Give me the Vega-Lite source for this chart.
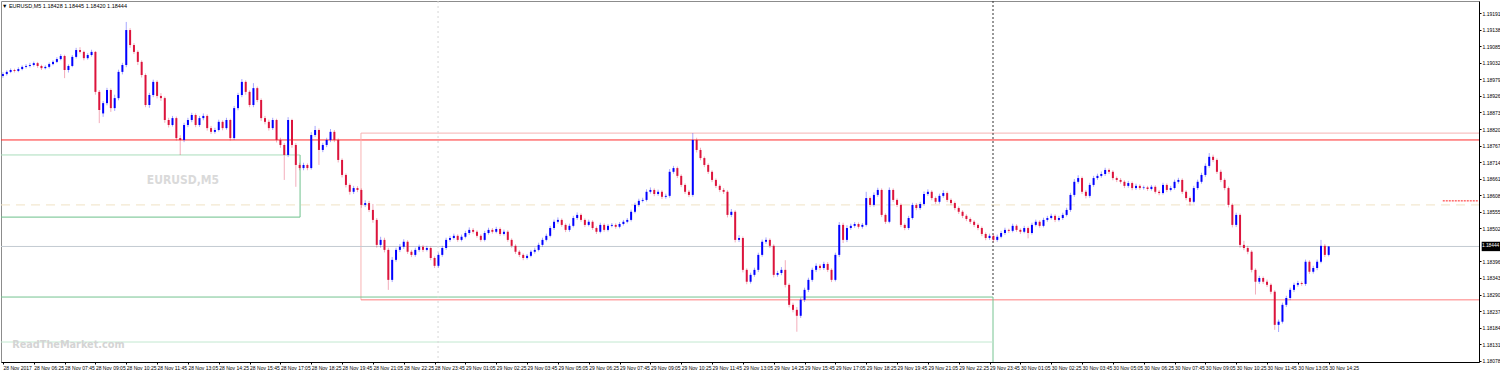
{
"$schema":"https://vega.github.io/schema/vega-lite/v6.json",
"width":1478,"height":361,"autosize":{"type":"none"},
"padding":{"left":1,"top":1,"right":21,"bottom":10},
"background":"white",
"config":{"view":{"stroke":"#8c8c8c"},"axis":{"grid":false,"labelFont":"Liberation Sans","labelFontSize":5,"labelColor":"#000000","labelPadding":1,"tickSize":2,"tickColor":"#000000","domainColor":"#000000","labelOverlap":false,"labelBound":false,"labelFlush":false,"title":null}},
"datasets":{
"lines":[
{"a":-0.5,"b":383,"p":1.18785,"q":1.18785,"s":"res"},
{"a":92.9,"b":383,"p":1.18807,"q":1.18807,"s":"box"},
{"a":92.9,"b":92.9,"p":1.18807,"q":1.18273,"s":"box"},
{"a":92.9,"b":383,"p":1.18273,"q":1.18273,"s":"sup"},
{"a":-0.5,"b":256.9,"p":1.18282,"q":1.18282,"s":"g1"},
{"a":256.9,"b":256.9,"p":1.18282,"q":1.18074,"s":"g1"},
{"a":-0.5,"b":256.9,"p":1.18138,"q":1.18138,"s":"g2"},
{"a":-0.5,"b":77.1,"p":1.18737,"q":1.18737,"s":"g3"},
{"a":77.1,"b":77.1,"p":1.18737,"q":1.18538,"s":"g4"},
{"a":-0.5,"b":77.1,"p":1.18538,"q":1.18538,"s":"g4"},
{"a":-0.5,"b":383,"p":1.18577,"q":1.18577,"s":"dash"},
{"a":-0.5,"b":383,"p":1.18444,"q":1.18444,"s":"bid"},
{"a":112.9,"b":112.9,"p":1.1923,"q":1.18074,"s":"sep"},
{"a":256.9,"b":256.9,"p":1.1923,"q":1.18282,"s":"vline"},
{"a":373.6,"b":382.8,"p":1.1859,"q":1.1859,"s":"arrow"}
],
"bars":[
{"i":0,"o":1.1899,"h":1.19002,"l":1.18984,"c":1.18996},
{"i":1,"o":1.18996,"h":1.19008,"l":1.18991,"c":1.19003},
{"i":2,"o":1.19003,"h":1.19014,"l":1.18999,"c":1.19009},
{"i":3,"o":1.19009,"h":1.19013,"l":1.19001,"c":1.19006},
{"i":4,"o":1.19006,"h":1.19018,"l":1.19002,"c":1.19012},
{"i":5,"o":1.19012,"h":1.19024,"l":1.19008,"c":1.19019},
{"i":6,"o":1.19019,"h":1.19028,"l":1.19014,"c":1.19022},
{"i":7,"o":1.19022,"h":1.19032,"l":1.19017,"c":1.19025},
{"i":8,"o":1.19025,"h":1.19036,"l":1.1902,"c":1.19031},
{"i":9,"o":1.19031,"h":1.19035,"l":1.19016,"c":1.19022},
{"i":10,"o":1.19022,"h":1.19026,"l":1.19009,"c":1.19015},
{"i":11,"o":1.19015,"h":1.19024,"l":1.19011,"c":1.19019},
{"i":12,"o":1.19019,"h":1.19033,"l":1.19014,"c":1.19028},
{"i":13,"o":1.19028,"h":1.1904,"l":1.19024,"c":1.19035},
{"i":14,"o":1.19035,"h":1.1905,"l":1.19031,"c":1.19044},
{"i":15,"o":1.19044,"h":1.1906,"l":1.1904,"c":1.19054},
{"i":16,"o":1.19054,"h":1.19058,"l":1.18983,"c":1.19009},
{"i":17,"o":1.19009,"h":1.19027,"l":1.19001,"c":1.19022},
{"i":18,"o":1.19022,"h":1.19057,"l":1.19018,"c":1.19051},
{"i":19,"o":1.19051,"h":1.1908,"l":1.19046,"c":1.19073},
{"i":20,"o":1.19073,"h":1.19082,"l":1.19062,"c":1.19067},
{"i":21,"o":1.19067,"h":1.19071,"l":1.1904,"c":1.19047},
{"i":22,"o":1.19047,"h":1.19063,"l":1.19042,"c":1.19057},
{"i":23,"o":1.19057,"h":1.19074,"l":1.19052,"c":1.19067},
{"i":24,"o":1.19067,"h":1.1907,"l":1.1893,"c":1.18939},
{"i":25,"o":1.18939,"h":1.18945,"l":1.18839,"c":1.18881},
{"i":26,"o":1.1887,"h":1.1891,"l":1.18859,"c":1.18903},
{"i":27,"o":1.18903,"h":1.18952,"l":1.18896,"c":1.18945},
{"i":28,"o":1.18945,"h":1.1895,"l":1.18875,"c":1.18887},
{"i":29,"o":1.18887,"h":1.1893,"l":1.18878,"c":1.18919},
{"i":30,"o":1.18919,"h":1.1901,"l":1.18912,"c":1.19003},
{"i":31,"o":1.19003,"h":1.19032,"l":1.18995,"c":1.19025},
{"i":32,"o":1.19025,"h":1.19163,"l":1.19018,"c":1.19137},
{"i":33,"o":1.19137,"h":1.19143,"l":1.1908,"c":1.19089},
{"i":34,"o":1.19089,"h":1.19095,"l":1.1906,"c":1.19067},
{"i":35,"o":1.19067,"h":1.19072,"l":1.19025,"c":1.19035},
{"i":36,"o":1.19035,"h":1.1904,"l":1.18985,"c":1.18993},
{"i":37,"o":1.18993,"h":1.18998,"l":1.1889,"c":1.18897},
{"i":38,"o":1.18897,"h":1.18936,"l":1.18888,"c":1.18929},
{"i":39,"o":1.18929,"h":1.18978,"l":1.18922,"c":1.18971},
{"i":40,"o":1.18971,"h":1.18976,"l":1.18918,"c":1.18926},
{"i":41,"o":1.18926,"h":1.18935,"l":1.1891,"c":1.18919},
{"i":42,"o":1.18919,"h":1.18924,"l":1.1884,"c":1.18849},
{"i":43,"o":1.18849,"h":1.18856,"l":1.18825,"c":1.18833},
{"i":44,"o":1.18833,"h":1.18862,"l":1.18828,"c":1.18855},
{"i":45,"o":1.18855,"h":1.1886,"l":1.18783,"c":1.18791},
{"i":46,"o":1.18791,"h":1.188,"l":1.18737,"c":1.18785},
{"i":47,"o":1.18785,"h":1.1884,"l":1.18778,"c":1.18833},
{"i":48,"o":1.18833,"h":1.18856,"l":1.18826,"c":1.18849},
{"i":49,"o":1.18849,"h":1.18872,"l":1.18842,"c":1.18865},
{"i":50,"o":1.18865,"h":1.1887,"l":1.18826,"c":1.18833},
{"i":51,"o":1.18833,"h":1.18862,"l":1.18827,"c":1.18855},
{"i":52,"o":1.18855,"h":1.1887,"l":1.18848,"c":1.18862},
{"i":53,"o":1.18862,"h":1.18867,"l":1.18815,"c":1.18823},
{"i":54,"o":1.18823,"h":1.1883,"l":1.18804,"c":1.18811},
{"i":55,"o":1.18811,"h":1.18824,"l":1.18805,"c":1.18817},
{"i":56,"o":1.18817,"h":1.1885,"l":1.18812,"c":1.18843},
{"i":57,"o":1.18843,"h":1.18848,"l":1.18816,"c":1.18823},
{"i":58,"o":1.18823,"h":1.18856,"l":1.18818,"c":1.18849},
{"i":59,"o":1.18849,"h":1.18853,"l":1.18783,"c":1.18791},
{"i":60,"o":1.18791,"h":1.18894,"l":1.18785,"c":1.18887},
{"i":61,"o":1.18887,"h":1.18936,"l":1.1888,"c":1.18929},
{"i":62,"o":1.18929,"h":1.1898,"l":1.18922,"c":1.18971},
{"i":63,"o":1.18971,"h":1.18976,"l":1.1893,"c":1.18939},
{"i":64,"o":1.18939,"h":1.18944,"l":1.1889,"c":1.18897},
{"i":65,"o":1.18897,"h":1.18967,"l":1.1889,"c":1.18951},
{"i":66,"o":1.18951,"h":1.18956,"l":1.18906,"c":1.18913},
{"i":67,"o":1.18913,"h":1.18918,"l":1.18846,"c":1.18855},
{"i":68,"o":1.18855,"h":1.18862,"l":1.18835,"c":1.18843},
{"i":69,"o":1.18843,"h":1.1885,"l":1.18815,"c":1.18823},
{"i":70,"o":1.18823,"h":1.18856,"l":1.18817,"c":1.18849},
{"i":71,"o":1.18849,"h":1.18853,"l":1.18777,"c":1.18785},
{"i":72,"o":1.18785,"h":1.18792,"l":1.1876,"c":1.18769},
{"i":73,"o":1.18769,"h":1.18775,"l":1.18657,"c":1.18737},
{"i":74,"o":1.18737,"h":1.18858,"l":1.1873,"c":1.18849},
{"i":75,"o":1.18849,"h":1.18853,"l":1.1876,"c":1.18769},
{"i":76,"o":1.18769,"h":1.18775,"l":1.18635,"c":1.18705},
{"i":77,"o":1.18705,"h":1.18712,"l":1.18688,"c":1.18695},
{"i":78,"o":1.18695,"h":1.18712,"l":1.18688,"c":1.18705},
{"i":79,"o":1.18705,"h":1.1871,"l":1.18688,"c":1.18695},
{"i":80,"o":1.18695,"h":1.1881,"l":1.1869,"c":1.18801},
{"i":81,"o":1.18801,"h":1.1883,"l":1.18795,"c":1.18817},
{"i":82,"o":1.18817,"h":1.18822,"l":1.18705,"c":1.18753},
{"i":83,"o":1.18753,"h":1.18776,"l":1.18746,"c":1.18769},
{"i":84,"o":1.18769,"h":1.18792,"l":1.18762,"c":1.18785},
{"i":85,"o":1.18785,"h":1.1882,"l":1.18778,"c":1.18811},
{"i":86,"o":1.18811,"h":1.18817,"l":1.18778,"c":1.18785},
{"i":87,"o":1.18785,"h":1.1879,"l":1.18713,"c":1.18721},
{"i":88,"o":1.18721,"h":1.18726,"l":1.18665,"c":1.18673},
{"i":89,"o":1.18673,"h":1.18678,"l":1.18633,"c":1.18641},
{"i":90,"o":1.18641,"h":1.18646,"l":1.1861,"c":1.18619},
{"i":91,"o":1.18619,"h":1.18638,"l":1.18612,"c":1.18631},
{"i":92,"o":1.18631,"h":1.18637,"l":1.18618,"c":1.18625},
{"i":93,"o":1.18625,"h":1.1863,"l":1.18568,"c":1.18577},
{"i":94,"o":1.18577,"h":1.18592,"l":1.1857,"c":1.18583},
{"i":95,"o":1.18583,"h":1.1859,"l":1.18554,"c":1.18561},
{"i":96,"o":1.18561,"h":1.1858,"l":1.1852,"c":1.18529},
{"i":97,"o":1.18529,"h":1.18535,"l":1.1844,"c":1.18449},
{"i":98,"o":1.18449,"h":1.18475,"l":1.1844,"c":1.18465},
{"i":99,"o":1.18465,"h":1.18472,"l":1.18425,"c":1.18433},
{"i":100,"o":1.18433,"h":1.1844,"l":1.18305,"c":1.18337},
{"i":101,"o":1.18337,"h":1.1841,"l":1.1833,"c":1.18401},
{"i":102,"o":1.18401,"h":1.1844,"l":1.18395,"c":1.18433},
{"i":103,"o":1.18433,"h":1.18452,"l":1.18426,"c":1.18443},
{"i":104,"o":1.18443,"h":1.18467,"l":1.18436,"c":1.18459},
{"i":105,"o":1.18459,"h":1.18464,"l":1.1842,"c":1.18427},
{"i":106,"o":1.18427,"h":1.18433,"l":1.1841,"c":1.18417},
{"i":107,"o":1.18417,"h":1.1844,"l":1.18411,"c":1.18433},
{"i":108,"o":1.18433,"h":1.1845,"l":1.18427,"c":1.18443},
{"i":109,"o":1.18443,"h":1.18449,"l":1.18426,"c":1.18433},
{"i":110,"o":1.18433,"h":1.18446,"l":1.18428,"c":1.18439},
{"i":111,"o":1.18439,"h":1.18444,"l":1.184,"c":1.18407},
{"i":112,"o":1.18407,"h":1.18412,"l":1.18375,"c":1.18382},
{"i":113,"o":1.18382,"h":1.18424,"l":1.18376,"c":1.18417},
{"i":114,"o":1.18417,"h":1.18446,"l":1.18411,"c":1.18439},
{"i":115,"o":1.18439,"h":1.18472,"l":1.18433,"c":1.18465},
{"i":116,"o":1.18465,"h":1.18478,"l":1.18459,"c":1.18471},
{"i":117,"o":1.18471,"h":1.18485,"l":1.18466,"c":1.18478},
{"i":118,"o":1.18478,"h":1.18483,"l":1.18459,"c":1.18465},
{"i":119,"o":1.18465,"h":1.18482,"l":1.1846,"c":1.18475},
{"i":120,"o":1.18475,"h":1.18494,"l":1.1847,"c":1.18487},
{"i":121,"o":1.18487,"h":1.18505,"l":1.18481,"c":1.18497},
{"i":122,"o":1.18497,"h":1.18503,"l":1.18485,"c":1.18491},
{"i":123,"o":1.18491,"h":1.18496,"l":1.18472,"c":1.18478},
{"i":124,"o":1.18478,"h":1.18483,"l":1.18459,"c":1.18465},
{"i":125,"o":1.18465,"h":1.18494,"l":1.1846,"c":1.18487},
{"i":126,"o":1.18487,"h":1.18504,"l":1.18482,"c":1.18497},
{"i":127,"o":1.18497,"h":1.18503,"l":1.18485,"c":1.18491},
{"i":128,"o":1.18491,"h":1.18507,"l":1.18486,"c":1.185},
{"i":129,"o":1.185,"h":1.18505,"l":1.18478,"c":1.18484},
{"i":130,"o":1.18484,"h":1.18498,"l":1.18479,"c":1.18491},
{"i":131,"o":1.18491,"h":1.18496,"l":1.18459,"c":1.18465},
{"i":132,"o":1.18465,"h":1.1847,"l":1.1844,"c":1.18446},
{"i":133,"o":1.18446,"h":1.18451,"l":1.1842,"c":1.18427},
{"i":134,"o":1.18427,"h":1.18432,"l":1.1841,"c":1.18417},
{"i":135,"o":1.18417,"h":1.18422,"l":1.184,"c":1.18407},
{"i":136,"o":1.18407,"h":1.1842,"l":1.18402,"c":1.18414},
{"i":137,"o":1.18414,"h":1.18433,"l":1.18409,"c":1.18427},
{"i":138,"o":1.18427,"h":1.1844,"l":1.18421,"c":1.18433},
{"i":139,"o":1.18433,"h":1.18456,"l":1.18428,"c":1.18449},
{"i":140,"o":1.18449,"h":1.18472,"l":1.18443,"c":1.18465},
{"i":141,"o":1.18465,"h":1.18485,"l":1.1846,"c":1.18478},
{"i":142,"o":1.18478,"h":1.1851,"l":1.18473,"c":1.18503},
{"i":143,"o":1.18503,"h":1.1853,"l":1.18497,"c":1.18523},
{"i":144,"o":1.18523,"h":1.18537,"l":1.18517,"c":1.18529},
{"i":145,"o":1.18529,"h":1.18534,"l":1.18507,"c":1.18513},
{"i":146,"o":1.18513,"h":1.18518,"l":1.1849,"c":1.18497},
{"i":147,"o":1.18497,"h":1.18517,"l":1.18491,"c":1.1851},
{"i":148,"o":1.1851,"h":1.18542,"l":1.18505,"c":1.18535},
{"i":149,"o":1.18535,"h":1.18553,"l":1.18529,"c":1.18545},
{"i":150,"o":1.18545,"h":1.1855,"l":1.18523,"c":1.18529},
{"i":151,"o":1.18529,"h":1.18534,"l":1.18506,"c":1.18513},
{"i":152,"o":1.18513,"h":1.1853,"l":1.18508,"c":1.18523},
{"i":153,"o":1.18523,"h":1.18528,"l":1.18497,"c":1.18503},
{"i":154,"o":1.18503,"h":1.18508,"l":1.18484,"c":1.18491},
{"i":155,"o":1.18491,"h":1.1852,"l":1.18486,"c":1.18513},
{"i":156,"o":1.18513,"h":1.18518,"l":1.18491,"c":1.18497},
{"i":157,"o":1.18497,"h":1.18516,"l":1.18492,"c":1.1851},
{"i":158,"o":1.1851,"h":1.18519,"l":1.18505,"c":1.18513},
{"i":159,"o":1.18513,"h":1.18518,"l":1.18501,"c":1.18507},
{"i":160,"o":1.18507,"h":1.18522,"l":1.18502,"c":1.18516},
{"i":161,"o":1.18516,"h":1.18529,"l":1.18511,"c":1.18523},
{"i":162,"o":1.18523,"h":1.18535,"l":1.18518,"c":1.18529},
{"i":163,"o":1.18529,"h":1.18562,"l":1.18524,"c":1.18555},
{"i":164,"o":1.18555,"h":1.18584,"l":1.1855,"c":1.18577},
{"i":165,"o":1.18577,"h":1.18597,"l":1.18571,"c":1.1859},
{"i":166,"o":1.1859,"h":1.186,"l":1.18585,"c":1.18593},
{"i":167,"o":1.18593,"h":1.18627,"l":1.18588,"c":1.18619},
{"i":168,"o":1.18619,"h":1.18633,"l":1.18613,"c":1.18625},
{"i":169,"o":1.18625,"h":1.1863,"l":1.18605,"c":1.18612},
{"i":170,"o":1.18612,"h":1.18626,"l":1.18606,"c":1.18619},
{"i":171,"o":1.18619,"h":1.18624,"l":1.18596,"c":1.18603},
{"i":172,"o":1.18603,"h":1.18613,"l":1.18597,"c":1.18606},
{"i":173,"o":1.18606,"h":1.18692,"l":1.186,"c":1.18683},
{"i":174,"o":1.18683,"h":1.18702,"l":1.18677,"c":1.18695},
{"i":175,"o":1.18695,"h":1.187,"l":1.18663,"c":1.1867},
{"i":176,"o":1.1867,"h":1.18675,"l":1.18634,"c":1.18641},
{"i":177,"o":1.18641,"h":1.18646,"l":1.18612,"c":1.18619},
{"i":178,"o":1.18619,"h":1.18625,"l":1.18602,"c":1.18609},
{"i":179,"o":1.18609,"h":1.18807,"l":1.18603,"c":1.18785},
{"i":180,"o":1.18785,"h":1.18792,"l":1.18745,"c":1.18753},
{"i":181,"o":1.18753,"h":1.1876,"l":1.1872,"c":1.18727},
{"i":182,"o":1.18727,"h":1.18732,"l":1.18698,"c":1.18705},
{"i":183,"o":1.18705,"h":1.1871,"l":1.18676,"c":1.18683},
{"i":184,"o":1.18683,"h":1.18688,"l":1.1865,"c":1.18657},
{"i":185,"o":1.18657,"h":1.18662,"l":1.18631,"c":1.18638},
{"i":186,"o":1.18638,"h":1.18643,"l":1.18618,"c":1.18625},
{"i":187,"o":1.18625,"h":1.18631,"l":1.18612,"c":1.18619},
{"i":188,"o":1.18619,"h":1.18624,"l":1.18537,"c":1.18545},
{"i":189,"o":1.18545,"h":1.18564,"l":1.18538,"c":1.18555},
{"i":190,"o":1.18555,"h":1.1856,"l":1.18457,"c":1.18465},
{"i":191,"o":1.18465,"h":1.1848,"l":1.18458,"c":1.18471},
{"i":192,"o":1.18471,"h":1.18476,"l":1.18361,"c":1.18369},
{"i":193,"o":1.18369,"h":1.18374,"l":1.18323,"c":1.18331},
{"i":194,"o":1.18331,"h":1.1836,"l":1.18325,"c":1.18353},
{"i":195,"o":1.18353,"h":1.18376,"l":1.18347,"c":1.18369},
{"i":196,"o":1.18369,"h":1.18424,"l":1.18362,"c":1.18417},
{"i":197,"o":1.18417,"h":1.18466,"l":1.18411,"c":1.18459},
{"i":198,"o":1.18459,"h":1.18473,"l":1.18452,"c":1.18465},
{"i":199,"o":1.18465,"h":1.1847,"l":1.18439,"c":1.18446},
{"i":200,"o":1.18446,"h":1.18451,"l":1.18345,"c":1.18353},
{"i":201,"o":1.18353,"h":1.18366,"l":1.18347,"c":1.18359},
{"i":202,"o":1.18359,"h":1.18378,"l":1.18352,"c":1.18369},
{"i":203,"o":1.18369,"h":1.184,"l":1.18313,"c":1.18321},
{"i":204,"o":1.18321,"h":1.18326,"l":1.18249,"c":1.18257},
{"i":205,"o":1.18257,"h":1.18264,"l":1.18233,"c":1.18241},
{"i":206,"o":1.18241,"h":1.1825,"l":1.18171,"c":1.18222},
{"i":207,"o":1.18222,"h":1.1828,"l":1.18215,"c":1.18273},
{"i":208,"o":1.18273,"h":1.18312,"l":1.18266,"c":1.18305},
{"i":209,"o":1.18305,"h":1.18344,"l":1.18298,"c":1.18337},
{"i":210,"o":1.18337,"h":1.18376,"l":1.18331,"c":1.18369},
{"i":211,"o":1.18369,"h":1.1839,"l":1.18362,"c":1.18382},
{"i":212,"o":1.18382,"h":1.18388,"l":1.18368,"c":1.18375},
{"i":213,"o":1.18375,"h":1.18395,"l":1.18369,"c":1.18388},
{"i":214,"o":1.18388,"h":1.18394,"l":1.18362,"c":1.18369},
{"i":215,"o":1.18369,"h":1.18374,"l":1.1833,"c":1.18337},
{"i":216,"o":1.18337,"h":1.18424,"l":1.18332,"c":1.18417},
{"i":217,"o":1.18417,"h":1.18522,"l":1.1841,"c":1.18513},
{"i":218,"o":1.18513,"h":1.1852,"l":1.18455,"c":1.18465},
{"i":219,"o":1.18465,"h":1.18512,"l":1.18458,"c":1.18503},
{"i":220,"o":1.18503,"h":1.18517,"l":1.18497,"c":1.1851},
{"i":221,"o":1.1851,"h":1.18522,"l":1.18504,"c":1.18516},
{"i":222,"o":1.18516,"h":1.18521,"l":1.18501,"c":1.18507},
{"i":223,"o":1.18507,"h":1.18519,"l":1.18501,"c":1.18513},
{"i":224,"o":1.18513,"h":1.18619,"l":1.18508,"c":1.18599},
{"i":225,"o":1.18599,"h":1.18604,"l":1.1857,"c":1.18577},
{"i":226,"o":1.18577,"h":1.18617,"l":1.18571,"c":1.18609},
{"i":227,"o":1.18609,"h":1.18632,"l":1.18603,"c":1.18625},
{"i":228,"o":1.18625,"h":1.1863,"l":1.18538,"c":1.18545},
{"i":229,"o":1.18545,"h":1.1855,"l":1.18516,"c":1.18523},
{"i":230,"o":1.18523,"h":1.18633,"l":1.18518,"c":1.18625},
{"i":231,"o":1.18625,"h":1.1863,"l":1.18586,"c":1.18593},
{"i":232,"o":1.18593,"h":1.18598,"l":1.1857,"c":1.18577},
{"i":233,"o":1.18577,"h":1.18582,"l":1.18506,"c":1.18513},
{"i":234,"o":1.18513,"h":1.18518,"l":1.18496,"c":1.18503},
{"i":235,"o":1.18503,"h":1.18542,"l":1.18497,"c":1.18535},
{"i":236,"o":1.18535,"h":1.18584,"l":1.1853,"c":1.18577},
{"i":237,"o":1.18577,"h":1.18583,"l":1.1856,"c":1.18567},
{"i":238,"o":1.18567,"h":1.18587,"l":1.18561,"c":1.1858},
{"i":239,"o":1.1858,"h":1.1862,"l":1.18575,"c":1.18612},
{"i":240,"o":1.18612,"h":1.18627,"l":1.18606,"c":1.18619},
{"i":241,"o":1.18619,"h":1.18624,"l":1.18592,"c":1.18599},
{"i":242,"o":1.18599,"h":1.18604,"l":1.1858,"c":1.18587},
{"i":243,"o":1.18587,"h":1.18613,"l":1.18581,"c":1.18606},
{"i":244,"o":1.18606,"h":1.18624,"l":1.186,"c":1.18615},
{"i":245,"o":1.18615,"h":1.1862,"l":1.18586,"c":1.18593},
{"i":246,"o":1.18593,"h":1.18598,"l":1.18576,"c":1.18583},
{"i":247,"o":1.18583,"h":1.18588,"l":1.1856,"c":1.18567},
{"i":248,"o":1.18567,"h":1.18572,"l":1.18548,"c":1.18555},
{"i":249,"o":1.18555,"h":1.1856,"l":1.18535,"c":1.18542},
{"i":250,"o":1.18542,"h":1.18547,"l":1.18525,"c":1.18532},
{"i":251,"o":1.18532,"h":1.18537,"l":1.18516,"c":1.18523},
{"i":252,"o":1.18523,"h":1.18528,"l":1.18506,"c":1.18513},
{"i":253,"o":1.18513,"h":1.18518,"l":1.18496,"c":1.18503},
{"i":254,"o":1.18503,"h":1.18508,"l":1.18477,"c":1.18484},
{"i":255,"o":1.18484,"h":1.18489,"l":1.18464,"c":1.18471},
{"i":256,"o":1.18471,"h":1.18485,"l":1.18465,"c":1.18478},
{"i":257,"o":1.18478,"h":1.18483,"l":1.18458,"c":1.18465},
{"i":258,"o":1.18465,"h":1.18482,"l":1.18459,"c":1.18475},
{"i":259,"o":1.18475,"h":1.18494,"l":1.1847,"c":1.18487},
{"i":260,"o":1.18487,"h":1.18504,"l":1.18481,"c":1.18497},
{"i":261,"o":1.18497,"h":1.18501,"l":1.18487,"c":1.18494},
{"i":262,"o":1.18494,"h":1.18517,"l":1.18489,"c":1.1851},
{"i":263,"o":1.1851,"h":1.18515,"l":1.18491,"c":1.18497},
{"i":264,"o":1.18497,"h":1.18502,"l":1.18484,"c":1.18491},
{"i":265,"o":1.18491,"h":1.1851,"l":1.18486,"c":1.18503},
{"i":266,"o":1.18503,"h":1.18508,"l":1.1847,"c":1.18487},
{"i":267,"o":1.18487,"h":1.1852,"l":1.18482,"c":1.18513},
{"i":268,"o":1.18513,"h":1.1853,"l":1.18508,"c":1.18523},
{"i":269,"o":1.18523,"h":1.18528,"l":1.18504,"c":1.1851},
{"i":270,"o":1.1851,"h":1.18536,"l":1.18505,"c":1.18529},
{"i":271,"o":1.18529,"h":1.18542,"l":1.18523,"c":1.18535},
{"i":272,"o":1.18535,"h":1.18549,"l":1.1853,"c":1.18542},
{"i":273,"o":1.18542,"h":1.18547,"l":1.18522,"c":1.18529},
{"i":274,"o":1.18529,"h":1.18542,"l":1.18524,"c":1.18535},
{"i":275,"o":1.18535,"h":1.18552,"l":1.18529,"c":1.18545},
{"i":276,"o":1.18545,"h":1.18568,"l":1.1854,"c":1.18561},
{"i":277,"o":1.18561,"h":1.18616,"l":1.18555,"c":1.18609},
{"i":278,"o":1.18609,"h":1.1866,"l":1.18603,"c":1.18651},
{"i":279,"o":1.18651,"h":1.18672,"l":1.18645,"c":1.18663},
{"i":280,"o":1.18663,"h":1.18668,"l":1.18612,"c":1.18619},
{"i":281,"o":1.18619,"h":1.18625,"l":1.18598,"c":1.18606},
{"i":282,"o":1.18606,"h":1.18648,"l":1.186,"c":1.18641},
{"i":283,"o":1.18641,"h":1.1867,"l":1.18635,"c":1.18663},
{"i":284,"o":1.18663,"h":1.18677,"l":1.18657,"c":1.1867},
{"i":285,"o":1.1867,"h":1.18684,"l":1.18664,"c":1.18676},
{"i":286,"o":1.18676,"h":1.18696,"l":1.1867,"c":1.18689},
{"i":287,"o":1.18689,"h":1.18694,"l":1.18676,"c":1.18683},
{"i":288,"o":1.18683,"h":1.18688,"l":1.18656,"c":1.18663},
{"i":289,"o":1.18663,"h":1.18668,"l":1.1865,"c":1.18657},
{"i":290,"o":1.18657,"h":1.18663,"l":1.18645,"c":1.18651},
{"i":291,"o":1.18651,"h":1.18656,"l":1.18631,"c":1.18638},
{"i":292,"o":1.18638,"h":1.18654,"l":1.18632,"c":1.18647},
{"i":293,"o":1.18647,"h":1.18652,"l":1.18624,"c":1.18631},
{"i":294,"o":1.18631,"h":1.18645,"l":1.18625,"c":1.18638},
{"i":295,"o":1.18638,"h":1.18643,"l":1.18625,"c":1.18631},
{"i":296,"o":1.18631,"h":1.18639,"l":1.18626,"c":1.18633},
{"i":297,"o":1.18633,"h":1.18638,"l":1.18622,"c":1.18628},
{"i":298,"o":1.18628,"h":1.18641,"l":1.18623,"c":1.18635},
{"i":299,"o":1.18635,"h":1.1864,"l":1.18613,"c":1.18619},
{"i":300,"o":1.18619,"h":1.18625,"l":1.18608,"c":1.18615},
{"i":301,"o":1.18615,"h":1.18648,"l":1.1861,"c":1.18641},
{"i":302,"o":1.18641,"h":1.18646,"l":1.18618,"c":1.18625},
{"i":303,"o":1.18625,"h":1.18638,"l":1.1862,"c":1.18631},
{"i":304,"o":1.18631,"h":1.18658,"l":1.18626,"c":1.18651},
{"i":305,"o":1.18651,"h":1.18664,"l":1.18645,"c":1.18657},
{"i":306,"o":1.18657,"h":1.18662,"l":1.18612,"c":1.18619},
{"i":307,"o":1.18619,"h":1.18624,"l":1.18592,"c":1.18599},
{"i":308,"o":1.18599,"h":1.18604,"l":1.18575,"c":1.18587},
{"i":309,"o":1.18587,"h":1.18638,"l":1.18582,"c":1.18631},
{"i":310,"o":1.18631,"h":1.18658,"l":1.18625,"c":1.18651},
{"i":311,"o":1.18651,"h":1.1868,"l":1.18645,"c":1.18673},
{"i":312,"o":1.18673,"h":1.1871,"l":1.18667,"c":1.18702},
{"i":313,"o":1.18702,"h":1.18743,"l":1.18696,"c":1.18731},
{"i":314,"o":1.18731,"h":1.18738,"l":1.18714,"c":1.18721},
{"i":315,"o":1.18721,"h":1.18726,"l":1.18676,"c":1.18683},
{"i":316,"o":1.18683,"h":1.1869,"l":1.1865,"c":1.18657},
{"i":317,"o":1.18657,"h":1.18662,"l":1.18624,"c":1.18631},
{"i":318,"o":1.18631,"h":1.18636,"l":1.18569,"c":1.18577},
{"i":319,"o":1.18577,"h":1.18582,"l":1.18505,"c":1.18513},
{"i":320,"o":1.18513,"h":1.18552,"l":1.18506,"c":1.18545},
{"i":321,"o":1.18545,"h":1.1855,"l":1.1844,"c":1.18449},
{"i":322,"o":1.18449,"h":1.18462,"l":1.18432,"c":1.18439},
{"i":323,"o":1.18439,"h":1.18446,"l":1.18419,"c":1.18427},
{"i":324,"o":1.18427,"h":1.18432,"l":1.18361,"c":1.18369},
{"i":325,"o":1.18369,"h":1.18374,"l":1.1829,"c":1.18331},
{"i":326,"o":1.18331,"h":1.1835,"l":1.18324,"c":1.18343},
{"i":327,"o":1.18343,"h":1.18348,"l":1.18324,"c":1.18331},
{"i":328,"o":1.18331,"h":1.18338,"l":1.18314,"c":1.18321},
{"i":329,"o":1.18321,"h":1.18326,"l":1.18291,"c":1.18299},
{"i":330,"o":1.18299,"h":1.18304,"l":1.18177,"c":1.18193},
{"i":331,"o":1.18193,"h":1.1821,"l":1.1817,"c":1.18203},
{"i":332,"o":1.18203,"h":1.18264,"l":1.18197,"c":1.18257},
{"i":333,"o":1.18257,"h":1.18286,"l":1.1825,"c":1.18279},
{"i":334,"o":1.18279,"h":1.18312,"l":1.18272,"c":1.18305},
{"i":335,"o":1.18305,"h":1.18328,"l":1.18298,"c":1.18321},
{"i":336,"o":1.18321,"h":1.18334,"l":1.18315,"c":1.18327},
{"i":337,"o":1.18327,"h":1.18332,"l":1.18318,"c":1.18324},
{"i":338,"o":1.18324,"h":1.18402,"l":1.18318,"c":1.18395},
{"i":339,"o":1.18395,"h":1.184,"l":1.18356,"c":1.18363},
{"i":340,"o":1.18363,"h":1.18382,"l":1.18357,"c":1.18375},
{"i":341,"o":1.18375,"h":1.18402,"l":1.18368,"c":1.18395},
{"i":342,"o":1.18395,"h":1.18465,"l":1.1839,"c":1.18446},
{"i":343,"o":1.18446,"h":1.18452,"l":1.1841,"c":1.18417},
{"i":344,"o":1.18417,"h":1.18445,"l":1.18412,"c":1.18444}
]
},
"layer":[
{"data":{"name":"lines"},"mark":{"type":"rule","strokeWidth":1},
 "encoding":{
  "x":{"field":"a","type":"quantitative","scale":{"domain":[-0.5,383],"nice":false,"zero":false},
   "axis":{"title":null,"orient":"bottom","values":[0,8,16,24,32,40,48,56,64,72,80,88,96,104,112,120,128,136,144,152,160,168,176,184,192,200,208,216,224,232,240,248,256,264,272,280,288,296,304,312,320,328,336,344],"labelExpr":"datum.value == 0 ? '28 Nov 2017' : utcFormat(utc(2017,10,28,5,5) + datum.value*600000, '%d %b %H:%M')","labelAlign":"left","labelBaseline":"top","labelOverlap":false}},
  "x2":{"field":"b"},
  "y":{"field":"p","type":"quantitative","scale":{"domain":[1.18074,1.1923],"nice":false,"zero":false},
   "axis":{"title":null,"orient":"right","values":[1.19191,1.19138,1.19085,1.19032,1.18979,1.18926,1.18873,1.1882,1.18767,1.18714,1.18661,1.18608,1.18555,1.18502,1.18396,1.18343,1.1829,1.18237,1.18184,1.18131,1.18078],"format":".5f","labelOverlap":false}},
  "y2":{"field":"q"},
  "color":{"field":"s","type":"nominal","legend":null,"scale":{"domain":["res","box","sup","g1","g2","g3","g4","dash","bid","sep","vline","arrow"],"range":["#FF2A2A","#F7B0B0","#FF7A7A","#74C490","#C2E8D0","#A9DDBB","#6CC08A","#F0E2C4","#C3CAD2","#D6D6D6","#333333","#FF2020"]}},
  "strokeDash":{"field":"s","type":"nominal","legend":null,"scale":{"domain":["res","box","sup","g1","g2","g3","g4","dash","bid","sep","vline","arrow"],"range":[[1,0],[1,0],[1,0],[1,0],[1,0],[1,0],[1,0],[9,6],[1,0],[2,3],[2,2],[2,1]]}}
 }},
{"data":{"values":[{"i":46.7,"p":1.18657,"t":"EURUSD,M5"}]},
 "mark":{"type":"text","font":"Liberation Sans Narrow, DejaVu Sans Condensed, sans-serif","fontWeight":"bold","fontSize":12,"color":"#DADADA","align":"center","baseline":"middle"},
 "encoding":{"x":{"field":"i","type":"quantitative","scale":{"domain":[-0.5,383],"nice":false,"zero":false},
   "axis":{"title":null,"orient":"bottom","values":[0,8,16,24,32,40,48,56,64,72,80,88,96,104,112,120,128,136,144,152,160,168,176,184,192,200,208,216,224,232,240,248,256,264,272,280,288,296,304,312,320,328,336,344],"labelExpr":"datum.value == 0 ? '28 Nov 2017' : utcFormat(utc(2017,10,28,5,5) + datum.value*600000, '%d %b %H:%M')","labelAlign":"left","labelBaseline":"top","labelOverlap":false}},
  "y":{"field":"p","type":"quantitative","scale":{"domain":[1.18074,1.1923],"nice":false,"zero":false},
   "axis":{"title":null,"orient":"right","values":[1.19191,1.19138,1.19085,1.19032,1.18979,1.18926,1.18873,1.1882,1.18767,1.18714,1.18661,1.18608,1.18555,1.18502,1.18396,1.18343,1.1829,1.18237,1.18184,1.18131,1.18078],"format":".5f","labelOverlap":false}},
  "text":{"field":"t"}}},
{"data":{"values":[{"i":2.4,"p":1.18129,"t":"ReadTheMarket.com"}]},
 "mark":{"type":"text","font":"Liberation Sans Narrow, DejaVu Sans Condensed, sans-serif","fontWeight":"bold","fontSize":10.8,"color":"#D4D4D4","align":"left","baseline":"middle"},
 "encoding":{"x":{"field":"i","type":"quantitative","scale":{"domain":[-0.5,383],"nice":false,"zero":false},
   "axis":{"title":null,"orient":"bottom","values":[0,8,16,24,32,40,48,56,64,72,80,88,96,104,112,120,128,136,144,152,160,168,176,184,192,200,208,216,224,232,240,248,256,264,272,280,288,296,304,312,320,328,336,344],"labelExpr":"datum.value == 0 ? '28 Nov 2017' : utcFormat(utc(2017,10,28,5,5) + datum.value*600000, '%d %b %H:%M')","labelAlign":"left","labelBaseline":"top","labelOverlap":false}},
  "y":{"field":"p","type":"quantitative","scale":{"domain":[1.18074,1.1923],"nice":false,"zero":false},
   "axis":{"title":null,"orient":"right","values":[1.19191,1.19138,1.19085,1.19032,1.18979,1.18926,1.18873,1.1882,1.18767,1.18714,1.18661,1.18608,1.18555,1.18502,1.18396,1.18343,1.1829,1.18237,1.18184,1.18131,1.18078],"format":".5f","labelOverlap":false}},
  "text":{"field":"t"}}},
{"data":{"name":"bars"},"mark":{"type":"rule","strokeWidth":1,"opacity":0.35},
 "encoding":{"x":{"field":"i","type":"quantitative","scale":{"domain":[-0.5,383],"nice":false,"zero":false},
   "axis":{"title":null,"orient":"bottom","values":[0,8,16,24,32,40,48,56,64,72,80,88,96,104,112,120,128,136,144,152,160,168,176,184,192,200,208,216,224,232,240,248,256,264,272,280,288,296,304,312,320,328,336,344],"labelExpr":"datum.value == 0 ? '28 Nov 2017' : utcFormat(utc(2017,10,28,5,5) + datum.value*600000, '%d %b %H:%M')","labelAlign":"left","labelBaseline":"top","labelOverlap":false}},
  "y":{"field":"l","type":"quantitative","scale":{"domain":[1.18074,1.1923],"nice":false,"zero":false},
   "axis":{"title":null,"orient":"right","values":[1.19191,1.19138,1.19085,1.19032,1.18979,1.18926,1.18873,1.1882,1.18767,1.18714,1.18661,1.18608,1.18555,1.18502,1.18396,1.18343,1.1829,1.18237,1.18184,1.18131,1.18078],"format":".5f","labelOverlap":false}},
  "y2":{"field":"h"},
  "color":{"condition":{"test":"datum.c >= datum.o","value":"#0000FF"},"value":"#DC143C"}}},
{"data":{"name":"bars"},"mark":{"type":"rule","strokeWidth":2},
 "encoding":{"x":{"field":"i","type":"quantitative","scale":{"domain":[-0.5,383],"nice":false,"zero":false},
   "axis":{"title":null,"orient":"bottom","values":[0,8,16,24,32,40,48,56,64,72,80,88,96,104,112,120,128,136,144,152,160,168,176,184,192,200,208,216,224,232,240,248,256,264,272,280,288,296,304,312,320,328,336,344],"labelExpr":"datum.value == 0 ? '28 Nov 2017' : utcFormat(utc(2017,10,28,5,5) + datum.value*600000, '%d %b %H:%M')","labelAlign":"left","labelBaseline":"top","labelOverlap":false}},
  "y":{"field":"o","type":"quantitative","scale":{"domain":[1.18074,1.1923],"nice":false,"zero":false},
   "axis":{"title":null,"orient":"right","values":[1.19191,1.19138,1.19085,1.19032,1.18979,1.18926,1.18873,1.1882,1.18767,1.18714,1.18661,1.18608,1.18555,1.18502,1.18396,1.18343,1.1829,1.18237,1.18184,1.18131,1.18078],"format":".5f","labelOverlap":false}},
  "y2":{"field":"c"},
  "color":{"condition":{"test":"datum.c >= datum.o","value":"#0000FF"},"value":"#DC143C"}}},
{"data":{"values":[{"i":-0.25,"p":1.19214,"t":"▼ EURUSD,M5  1.18428 1.18445 1.18420 1.18444"}]},
 "mark":{"type":"text","font":"Liberation Sans","fontSize":5.5,"color":"#000000","align":"left","baseline":"middle"},
 "encoding":{"x":{"field":"i","type":"quantitative","scale":{"domain":[-0.5,383],"nice":false,"zero":false},
   "axis":{"title":null,"orient":"bottom","values":[0,8,16,24,32,40,48,56,64,72,80,88,96,104,112,120,128,136,144,152,160,168,176,184,192,200,208,216,224,232,240,248,256,264,272,280,288,296,304,312,320,328,336,344],"labelExpr":"datum.value == 0 ? '28 Nov 2017' : utcFormat(utc(2017,10,28,5,5) + datum.value*600000, '%d %b %H:%M')","labelAlign":"left","labelBaseline":"top","labelOverlap":false}},
  "y":{"field":"p","type":"quantitative","scale":{"domain":[1.18074,1.1923],"nice":false,"zero":false},
   "axis":{"title":null,"orient":"right","values":[1.19191,1.19138,1.19085,1.19032,1.18979,1.18926,1.18873,1.1882,1.18767,1.18714,1.18661,1.18608,1.18555,1.18502,1.18396,1.18343,1.1829,1.18237,1.18184,1.18131,1.18078],"format":".5f","labelOverlap":false}},
  "text":{"field":"t"}}},
{"data":{"values":[{"i":383.7,"i2":388.9,"p":1.18459,"p2":1.18429}]},
 "mark":{"type":"rect","color":"#000000"},
 "encoding":{"x":{"field":"i","type":"quantitative","scale":{"domain":[-0.5,383],"nice":false,"zero":false},
   "axis":{"title":null,"orient":"bottom","values":[0,8,16,24,32,40,48,56,64,72,80,88,96,104,112,120,128,136,144,152,160,168,176,184,192,200,208,216,224,232,240,248,256,264,272,280,288,296,304,312,320,328,336,344],"labelExpr":"datum.value == 0 ? '28 Nov 2017' : utcFormat(utc(2017,10,28,5,5) + datum.value*600000, '%d %b %H:%M')","labelAlign":"left","labelBaseline":"top","labelOverlap":false}},
  "x2":{"field":"i2"},
  "y":{"field":"p","type":"quantitative","scale":{"domain":[1.18074,1.1923],"nice":false,"zero":false},
   "axis":{"title":null,"orient":"right","values":[1.19191,1.19138,1.19085,1.19032,1.18979,1.18926,1.18873,1.1882,1.18767,1.18714,1.18661,1.18608,1.18555,1.18502,1.18396,1.18343,1.1829,1.18237,1.18184,1.18131,1.18078],"format":".5f","labelOverlap":false}},
  "y2":{"field":"p2"}}},
{"data":{"values":[{"i":386.0,"p":1.18444,"t":"1.18444"}]},
 "mark":{"type":"text","font":"Liberation Sans","fontSize":4.8,"color":"#FFFFFF","align":"center","baseline":"middle"},
 "encoding":{"x":{"field":"i","type":"quantitative","scale":{"domain":[-0.5,383],"nice":false,"zero":false},
   "axis":{"title":null,"orient":"bottom","values":[0,8,16,24,32,40,48,56,64,72,80,88,96,104,112,120,128,136,144,152,160,168,176,184,192,200,208,216,224,232,240,248,256,264,272,280,288,296,304,312,320,328,336,344],"labelExpr":"datum.value == 0 ? '28 Nov 2017' : utcFormat(utc(2017,10,28,5,5) + datum.value*600000, '%d %b %H:%M')","labelAlign":"left","labelBaseline":"top","labelOverlap":false}},
  "y":{"field":"p","type":"quantitative","scale":{"domain":[1.18074,1.1923],"nice":false,"zero":false},
   "axis":{"title":null,"orient":"right","values":[1.19191,1.19138,1.19085,1.19032,1.18979,1.18926,1.18873,1.1882,1.18767,1.18714,1.18661,1.18608,1.18555,1.18502,1.18396,1.18343,1.1829,1.18237,1.18184,1.18131,1.18078],"format":".5f","labelOverlap":false}},
  "text":{"field":"t"}}}
]
}
